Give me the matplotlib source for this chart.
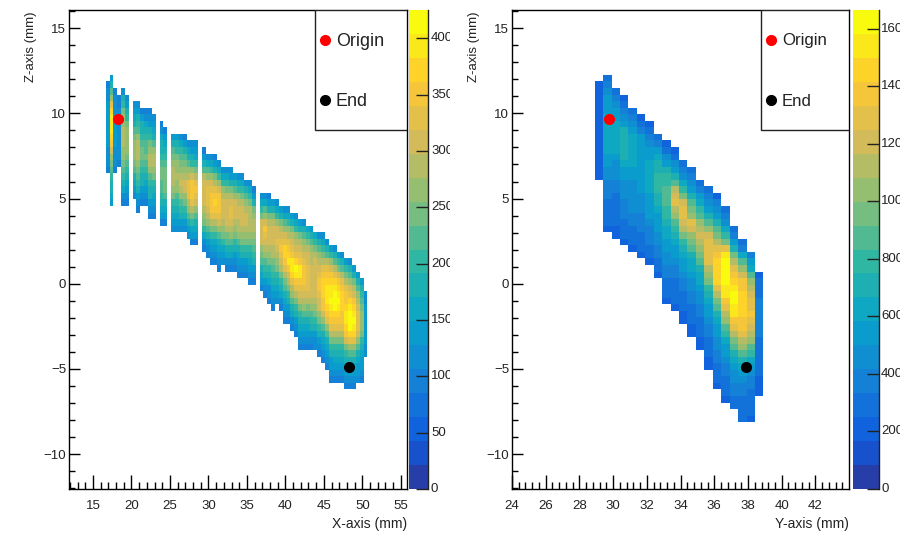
import numpy as np
import matplotlib
matplotlib.use("Agg")
import matplotlib.pyplot as plt
from matplotlib.colors import LinearSegmentedColormap, ListedColormap, BoundaryNorm
from matplotlib.patches import Rectangle
from matplotlib.ticker import MultipleLocator
from matplotlib.transforms import Bbox, TransformedBbox

plt.rcParams['font.family'] = ['Liberation Sans', 'DejaVu Sans']

W, H = 912, 533

# ---- data: XZ projection; values in tens of counts, per X column, top to bottom
xz_col = [0,1,2,3,4,5,7,8,9,10,11,12,14,15,17,18,19,20,21,22,23,25,26,27,28,29,30,31,32,33,34,35,36,37,38,
          40,41,42,43,44,45,46,47,48,49,50,51,52,53,54,55,56,57,58,59,60,61,62,63,64,65,66,67]
xz_top = [1,0,2,3,2,3,4,4,5,5,5,6,7,8,9,9,9,9,10,10,10,11,12,12,12,13,14,14,14,15,15,15,16,16,17,
          18,18,18,19,19,20,20,20,21,21,22,22,23,23,24,24,24,25,26,26,27,27,28,28,29,30,31,33]
xz_vals = [
 [10,11,12,13,13,13,13,13,13,13,12,12,11,10],
 [13,18,22,27,33,37,39,40,39,38,35,30,27,24,22,20,18,17,15,13],
 [10,11,12,12,13,13,13,13,13,12,12,11,10],
 [10,10,11,11,12,12,12,12,11,11,10],
 [12,17,21,24,26,27,28,28,28,27,26,25,23,21,18,15,12,10],
 [12,14,18,21,24,26,27,27,26,25,23,21,18,15,13,11,10],
 [11,14,16,19,22,25,27,27,26,24,22,19,16,14,12],
 [11,14,17,20,23,26,28,29,29,27,25,22,20,17,14,12,10],
 [10,13,17,19,21,23,24,24,23,21,19,17,14,12,10],
 [10,12,15,18,20,22,23,24,23,21,19,16,14,11,10],
 [10,12,14,17,20,24,27,28,28,26,23,21,19,17,14,12,10],
 [11,13,16,19,23,27,29,29,27,24,21,18,16,14,12,10],
 [9,12,15,17,19,21,23,24,24,23,22,20,18,16,13,10],
 [10,13,16,19,21,23,24,25,25,24,22,19,16,13,10],
 [13,18,22,25,27,28,29,28,26,24,21,19,16,13,11],
 [13,17,21,24,26,27,28,27,26,23,21,18,16,13,11],
 [11,16,20,23,25,27,29,30,29,26,23,20,17,14,11],
 [10,14,18,22,24,27,29,31,30,27,24,21,18,14,11],
 [12,15,19,23,26,29,32,33,32,29,26,22,18,14,11],
 [11,14,17,21,26,30,35,36,35,32,28,24,20,16,13,10],
 [11,13,16,20,25,29,33,34,33,30,27,23,19,16,13,10],
 [10,14,18,23,28,31,31,31,31,29,27,24,20,16,12,10],
 [12,16,22,27,31,33,32,32,31,29,26,22,17,13,11,10],
 [11,15,20,26,30,33,35,36,35,33,29,25,20,16,13,11,10],
 [10,14,19,24,29,33,36,37,36,33,29,25,20,16,13,11,10],
 [11,15,20,26,31,34,35,34,32,30,27,23,19,15,13,11,10],
 [12,16,21,26,29,30,30,30,29,27,24,20,16,13,11],
 [11,15,20,25,28,30,31,31,30,28,25,22,18,15,12,10],
 [11,14,19,24,28,30,32,32,31,29,26,23,19,15,12,10],
 [13,17,22,27,30,31,30,29,27,25,21,17,14,11,10],
 [12,16,21,26,29,31,30,29,28,26,23,19,16,13,11,10],
 [11,15,20,25,28,30,31,30,29,27,24,20,17,14,11,10],
 [12,17,22,26,29,30,30,29,27,25,21,18,14,12,10],
 [11,15,20,25,28,29,29,28,26,24,21,18,15,13,11,9],
 [10,14,19,24,27,28,28,27,25,23,20,17,14,11,9],
 [11,15,20,25,30,31,31,30,27,25,22,19,16,13,10],
 [11,16,22,27,31,34,32,31,29,26,23,20,17,14,12,10],
 [10,14,19,25,29,31,31,30,28,26,24,21,18,15,12,11,10],
 [13,18,24,28,30,31,30,29,28,25,23,20,18,15,13,11,10],
 [11,16,21,26,30,31,32,31,29,27,24,21,18,15,13,11],
 [13,18,24,28,31,33,34,32,30,28,24,21,18,15,12,10],
 [12,16,22,27,30,33,37,37,35,32,29,25,22,19,16,13,11,10],
 [11,15,21,26,29,32,36,38,39,35,31,28,24,20,17,14,12,10],
 [13,18,24,28,30,33,36,39,40,37,33,29,26,22,18,15,12,10],
 [12,16,21,26,29,31,33,37,41,39,36,32,28,24,21,17,14,12,10],
 [14,19,24,28,30,32,36,39,39,36,33,30,28,24,21,18,15,13,11,10],
 [12,17,22,26,29,31,33,35,36,34,33,31,29,26,23,19,16,14,12,10],
 [15,20,25,28,30,31,32,33,33,32,30,28,25,22,19,16,14,12,10],
 [13,17,22,26,28,29,30,31,31,30,30,28,26,23,20,17,14,12,10],
 [15,20,25,28,30,30,30,31,31,31,29,27,24,21,17,14,12,11],
 [12,17,22,26,29,31,33,34,34,33,31,30,27,24,20,17,14,12,10],
 [11,15,20,25,29,33,35,37,37,37,36,34,30,27,23,19,15,13,11,10],
 [12,18,23,28,33,35,38,39,40,40,38,35,32,27,23,19,16,13,12,10],
 [14,20,26,31,34,37,39,40,41,40,38,35,32,28,24,20,17,14,13,12,10],
 [12,17,23,29,33,37,39,41,42,41,38,35,32,28,24,20,17,15,13,12,10],
 [14,20,25,30,34,37,39,41,40,37,35,32,28,24,20,17,15,13,12,10],
 [12,18,23,28,32,35,37,38,37,36,34,32,29,25,21,18,15,13,12,10],
 [14,20,25,29,32,34,35,38,39,40,38,34,30,25,21,17,15,13,12,9],
 [12,17,22,27,30,33,37,40,42,42,41,37,33,27,22,18,15,13,12,10],
 [14,19,24,28,31,34,37,39,41,40,37,33,27,22,18,15,13,12,10],
 [13,18,23,26,29,31,32,33,33,31,27,23,19,16,14,13,11],
 [13,17,21,23,25,26,27,26,24,21,18,15,14,13,12,10],
 [11,12,13,14,14,14,14,13,12,11],
]

# ---- data: YZ projection; values in tens of counts, per Y column, top to bottom
yz_top = [1,0,2,3,5,6,7,9,10,11,13,14,16,17,18,20,23,25,27,30]
yz_vals = [
 [22,22,23,23,24,24,24,24,24,24,24,24,23,23,22],
 [28,37,45,50,55,58,62,63,64,65,65,60,55,50,45,42,38,36,34,32,30,27,25,23],
 [26,36,44,50,58,64,66,66,65,60,55,48,45,42,40,36,33,30,28,27,25,23,22],
 [24,30,38,48,58,68,72,74,74,70,64,57,52,48,46,44,40,37,34,30,28,26,22],
 [26,34,44,52,60,64,66,64,60,55,52,48,47,46,45,43,40,36,33,30,26,23],
 [24,30,40,50,54,56,58,58,56,52,50,50,48,46,44,40,37,34,31,28,26,22],
 [24,30,38,46,54,58,60,64,66,64,60,56,54,52,50,46,40,37,34,30,26,23],
 [30,40,50,60,68,74,78,78,76,72,68,62,58,55,52,47,42,38,34,30,26,22],
 [24,32,44,56,68,76,82,88,88,86,82,76,70,66,60,54,50,46,42,38,34,30,28,26,22],
 [24,32,44,58,72,90,110,122,126,115,105,90,78,70,62,56,50,44,40,36,33,30,27,25,22],
 [28,38,48,60,78,96,122,130,128,122,112,96,82,72,62,56,50,45,41,36,33,30,27,24,22],
 [28,36,46,56,68,84,94,108,128,120,108,92,84,74,66,60,54,48,44,40,36,32,30,27,24,22],
 [30,40,50,64,78,84,100,116,120,116,104,92,84,74,66,60,52,48,44,40,36,33,30,27,24,22],
 [28,36,46,58,72,84,100,118,128,130,130,125,115,104,92,80,72,62,56,50,44,40,36,33,30,27,24,22],
 [24,34,44,56,70,84,96,110,125,135,145,145,148,145,125,110,96,84,74,66,58,50,46,42,38,34,30,28,25,22],
 [26,36,48,60,76,96,125,150,160,165,165,160,155,150,140,130,115,100,88,76,66,56,50,44,40,36,33,30,27,24],
 [26,36,52,72,92,115,130,135,148,155,160,163,158,150,138,125,110,96,84,72,60,52,48,42,38,34,30,27],
 [28,40,60,84,102,118,135,140,145,148,145,142,138,135,125,112,100,84,72,60,50,46,40,36,33,30,28,25],
 [34,50,66,84,100,116,122,125,130,135,130,122,112,100,88,76,60,50,44,40,36,33,30,27,25,23],
 [24,26,28,30,34,36,38,38,36,34,33,32,30,28,26,25,24,23,22],
]

xz_ticks = [0, 50, 100, 150, 200, 250, 300, 350, 400]
yz_ticks = [0, 200, 400, 600, 800, 1000, 1200, 1400, 1600]
xz_max = 425
yz_max = 1666
origin_x, origin_y, origin_z = 18.25, 29.76, 9.68
end_x, end_y, end_z = 48.3, 37.9, -4.87

stops = [0, .125, .25, .375, .5, .625, .75, .875, 1]
red = [0.2082, 0.0592, 0.0780, 0.0232, 0.1802, 0.5301, 0.8186, 0.9956, 0.9764]
green = [0.1664, 0.3599, 0.5041, 0.6419, 0.7178, 0.7492, 0.7328, 0.7862, 0.9832]
blue = [0.5293, 0.8684, 0.8385, 0.7914, 0.6425, 0.4662, 0.3499, 0.1968, 0.0539]
_bird = LinearSegmentedColormap.from_list('bird', list(zip(stops, zip(red, green, blue))), N=256)
bird = ListedColormap([_bird((i + 1) / 20) for i in range(20)])

Z_TOP, DZ = 12.258, 0.3847
TXT = '#222222'
LW = 1.0
TICK_FS = 9.5


def grid(columns, tops, vals, ncol, scale=10.0):
    nrow = max(t + len(v) for t, v in zip(tops, vals))
    g = np.full((nrow, ncol), np.nan)
    for c, t, v in zip(columns, tops, vals):
        g[t:t + len(v), c] = np.array(v, float) * scale
    return np.ma.masked_invalid(g)


def px_axes(x0, x1, y0=10, y1=489):
    return fig.add_axes([x0 / W, 1 - y1 / H, (x1 - x0) / W, (y1 - y0) / H])


def panel(ax, cax, data, x0, dx, xlim, xmaj, xmin, xlabel, zmax, ticks, ox, ex, box_x0,
          text_x, clip, leg_fs, width, origin_dy):
    nrow, ncol = data.shape
    xe = x0 + dx * np.arange(ncol + 1)
    ze = Z_TOP - DZ * np.arange(nrow + 1)
    norm = BoundaryNorm(np.linspace(0, zmax, 21), 20)
    mesh = ax.pcolormesh(xe, ze, data, cmap=bird, norm=norm, linewidth=0)
    ax.set_xlim(*xlim)
    ax.set_ylim(-12.05, 16.07)
    ax.xaxis.set_major_locator(MultipleLocator(xmaj))
    ax.xaxis.set_minor_locator(MultipleLocator(xmin))
    ax.yaxis.set_major_locator(MultipleLocator(5))
    ax.yaxis.set_minor_locator(MultipleLocator(1))
    ax.tick_params(axis='x', which='major', direction='in', length=10, width=LW,
                   labelsize=TICK_FS, labelcolor=TXT, pad=8)
    ax.tick_params(axis='x', which='minor', direction='in', length=5, width=LW)
    ax.tick_params(axis='y', which='major', direction='in', length=8, width=LW,
                   labelsize=TICK_FS, labelcolor=TXT, pad=2)
    ax.tick_params(axis='y', which='minor', direction='in', length=4, width=LW)
    ax.set_axisbelow(False)
    for s in ax.spines.values():
        s.set_linewidth(LW)
    ax.set_xlabel(xlabel, fontsize=10, color=TXT, loc='right')
    ax.xaxis.set_label_coords(1.0, -28 / 479)
    ax.set_ylabel('Z-axis (mm)', fontsize=9.5, color=TXT, loc='top')
    ax.yaxis.set_label_coords(-32 / width, 1 - 2 / 479)

    # legend box
    ax.add_patch(Rectangle((box_x0, 0.75), 1 - box_x0, 0.25, transform=ax.transAxes,
                           facecolor='white', edgecolor='#222222', linewidth=LW, zorder=5))
    mx = box_x0 + (10 / width)
    ax.plot([mx], [1 - 30 / 479], 'o', color='#ff0000', ms=7, transform=ax.transAxes, zorder=6)
    ax.plot([mx], [1 - 90 / 479], 'o', color='black', ms=7, transform=ax.transAxes, zorder=6)
    ax.text(text_x, 1 - (30 + origin_dy) / 479, 'Origin', transform=ax.transAxes, fontsize=leg_fs,
            color=TXT, va='center', zorder=6)
    ax.text(text_x, 1 - 91 / 479, 'End', transform=ax.transAxes, fontsize=leg_fs, color=TXT,
            va='center', zorder=6)

    # track markers
    ax.plot([ox], [origin_z], 'o', color='#ff0000', ms=7, zorder=7)
    ax.plot([ex], [end_z], 'o', color='black', ms=7, zorder=7)

    cb = fig.colorbar(mesh, cax=cax, spacing='proportional', drawedges=False)
    cb.outline.set_visible(False)
    cb.set_ticks(ticks)
    cb.ax.tick_params(which='both', direction='in', length=8.6, width=LW, labelright=False,
                      right=True, color='#222222')
    cb.ax.minorticks_off()
    cb.ax.plot([1, 1], [0, 1], transform=cb.ax.transAxes, color='#222222', lw=LW, clip_on=False)
    box = TransformedBbox(Bbox([[clip[0] / W, 0], [clip[1] / W, 1]]), fig.transFigure)
    for t in ticks:
        txt = cb.ax.text(1.0, t, str(t), transform=cb.ax.get_yaxis_transform(),
                         fontsize=TICK_FS, color=TXT, va='center', ha='left', clip_on=True)
        txt.set_position((1.0 + 2.5 / cax.get_position().width / W, t))
        txt.set_clip_box(box)


fig = plt.figure(figsize=(W / 100, H / 100), dpi=100, facecolor='white')
ax1 = px_axes(69, 407)
cax1 = px_axes(409, 428.5)
ax2 = px_axes(512, 849)
cax2 = px_axes(853, 878.5)

xz = grid(xz_col, xz_top, xz_vals, 68)
yz = grid(list(range(len(yz_top))), yz_top, yz_vals, 20)

panel(ax1, cax1, xz, 16.65, 0.5, (11.88, 55.8), 5, 1, 'X-axis (mm)', xz_max, xz_ticks,
      origin_x, end_x, 1 - 92 / 338, 1 - 71 / 338, (409, 450), 12.9, 338, 1.5)
panel(ax2, cax2, yz, 28.91, 0.5, (24.0, 43.99), 2, 0.4, 'Y-axis (mm)', yz_max, yz_ticks,
      origin_y, end_y, 1 - 88 / 337, 1 - 67 / 337, (853, 900), 12.1, 337, 0)

fig.savefig('out.png', dpi=100)
